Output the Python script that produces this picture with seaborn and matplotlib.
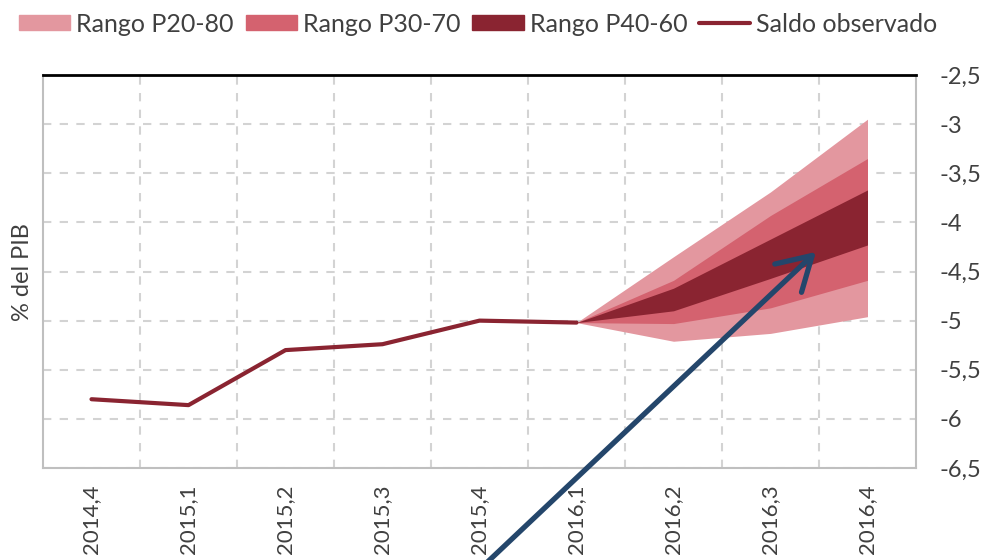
import numpy as np
import pandas as pd
import matplotlib
matplotlib.use("Agg")
import matplotlib.pyplot as plt
import seaborn as sns
from matplotlib.patches import Patch, FancyArrowPatch
from matplotlib.lines import Line2D

# ---- data ----
quarters = ["2014,4", "2015,1", "2015,2", "2015,3", "2015,4",
            "2016,1", "2016,2", "2016,3", "2016,4"]
obs_quarters = ["2014,4", "2015,1", "2015,2", "2015,3", "2015,4", "2016,1"]
observed = [-5.80, -5.86, -5.30, -5.24, -5.00, -5.02]

fan_quarters = ["2016,1", "2016,2", "2016,3", "2016,4"]
p20 = [-5.02, -5.21, -5.13, -4.96]
p80 = [-5.02, -4.35, -3.69, -2.95]
p30 = [-5.02, -5.03, -4.87, -4.59]
p70 = [-5.02, -4.59, -3.93, -3.35]
p40 = [-5.02, -4.90, -4.57, -4.23]
p60 = [-5.02, -4.67, -4.17, -3.67]

y_ticks = [-6.5, -6.0, -5.5, -5.0, -4.5, -4.0, -3.5, -3.0, -2.5]

legend_labels = ["Rango P20-80", "Rango P30-70", "Rango P40-60", "Saldo observado"]
ylabel = "% del PIB"

# ---- style ----
c_light = "#e3979f"
c_mid = "#d4626f"
c_dark = "#8a2431"
c_text = "#404040"
c_grid = "#d3d3d3"
c_arrow = "#24466b"

sns.set_theme(style="white")
plt.rcParams["font.family"] = ["Lato", "DejaVu Sans"]

fig = plt.figure(figsize=(9.84, 5.6), dpi=100)
ax = fig.add_axes([43 / 984, 1 - 468 / 560, (916 - 43) / 984, (468 - 75) / 560])

df_obs = pd.DataFrame({"x": [quarters.index(q) for q in obs_quarters], "y": observed})
fx = np.array([quarters.index(q) for q in fan_quarters])

ax.fill_between(fx, p20, p80, color=c_light, lw=0, zorder=2)
ax.fill_between(fx, p30, p70, color=c_mid, lw=0, zorder=3)
ax.fill_between(fx, p40, p60, color=c_dark, lw=0, zorder=4)
sns.lineplot(data=df_obs, x="x", y="y", ax=ax, color=c_dark, lw=3,
             solid_capstyle="round", zorder=5)

ax.set_xlim(-0.5, len(quarters) - 0.5)
ax.set_ylim(-6.5, -2.5)

ax.set_xticks(range(len(quarters)))
ax.set_xticklabels(quarters, rotation=90, fontsize=16, color=c_text)
ax.set_xticks(np.arange(0.5, len(quarters) - 0.5, 1), minor=True)
ax.tick_params(axis="x", which="both", length=0, pad=12)

ax.yaxis.tick_right()
ax.set_yticks(y_ticks)
ax.set_yticklabels([("%g" % v).replace(".", ",") for v in y_ticks],
                   fontsize=17, color=c_text)
ax.tick_params(axis="y", length=0, pad=17)

ax.grid(False)
ax.grid(True, axis="x", which="minor", color=c_grid, ls=(0, (4, 4)), lw=1.5, zorder=0)
ax.grid(True, axis="y", which="major", color=c_grid, ls=(0, (4, 4)), lw=1.5, zorder=0)
ax.set_axisbelow(True)

for s in ["left", "right", "bottom"]:
    ax.spines[s].set_color("#bfbfbf")
    ax.spines[s].set_linewidth(1.5)
ax.spines["top"].set_color("black")
ax.spines["top"].set_linewidth(2)

ax.set_xlabel("")
ax.set_ylabel("")
fig.text(23 / 984, 1 - 272 / 560, ylabel, rotation=90, fontsize=17,
         color=c_text, ha="center", va="center")

handles = [Patch(color=c_light), Patch(color=c_mid), Patch(color=c_dark),
           Line2D([0], [0], color=c_dark, lw=3)]
fig.legend(handles, legend_labels, loc="center", bbox_to_anchor=(0.486, 1 - 24 / 560),
           ncol=4, frameon=False, fontsize=18, handlelength=2.05, handleheight=0.52,
           handletextpad=0.24, columnspacing=0.48, labelcolor=c_text,
           borderaxespad=0, borderpad=0)

arrow = FancyArrowPatch((479, -10), (818, 310), transform=None,
                        arrowstyle="->,head_length=0.85,head_width=0.5",
                        mutation_scale=28, color=c_arrow, lw=3.8,
                        capstyle="round", joinstyle="round", zorder=10)
fig.add_artist(arrow)

fig.savefig("out.png", dpi=100)
